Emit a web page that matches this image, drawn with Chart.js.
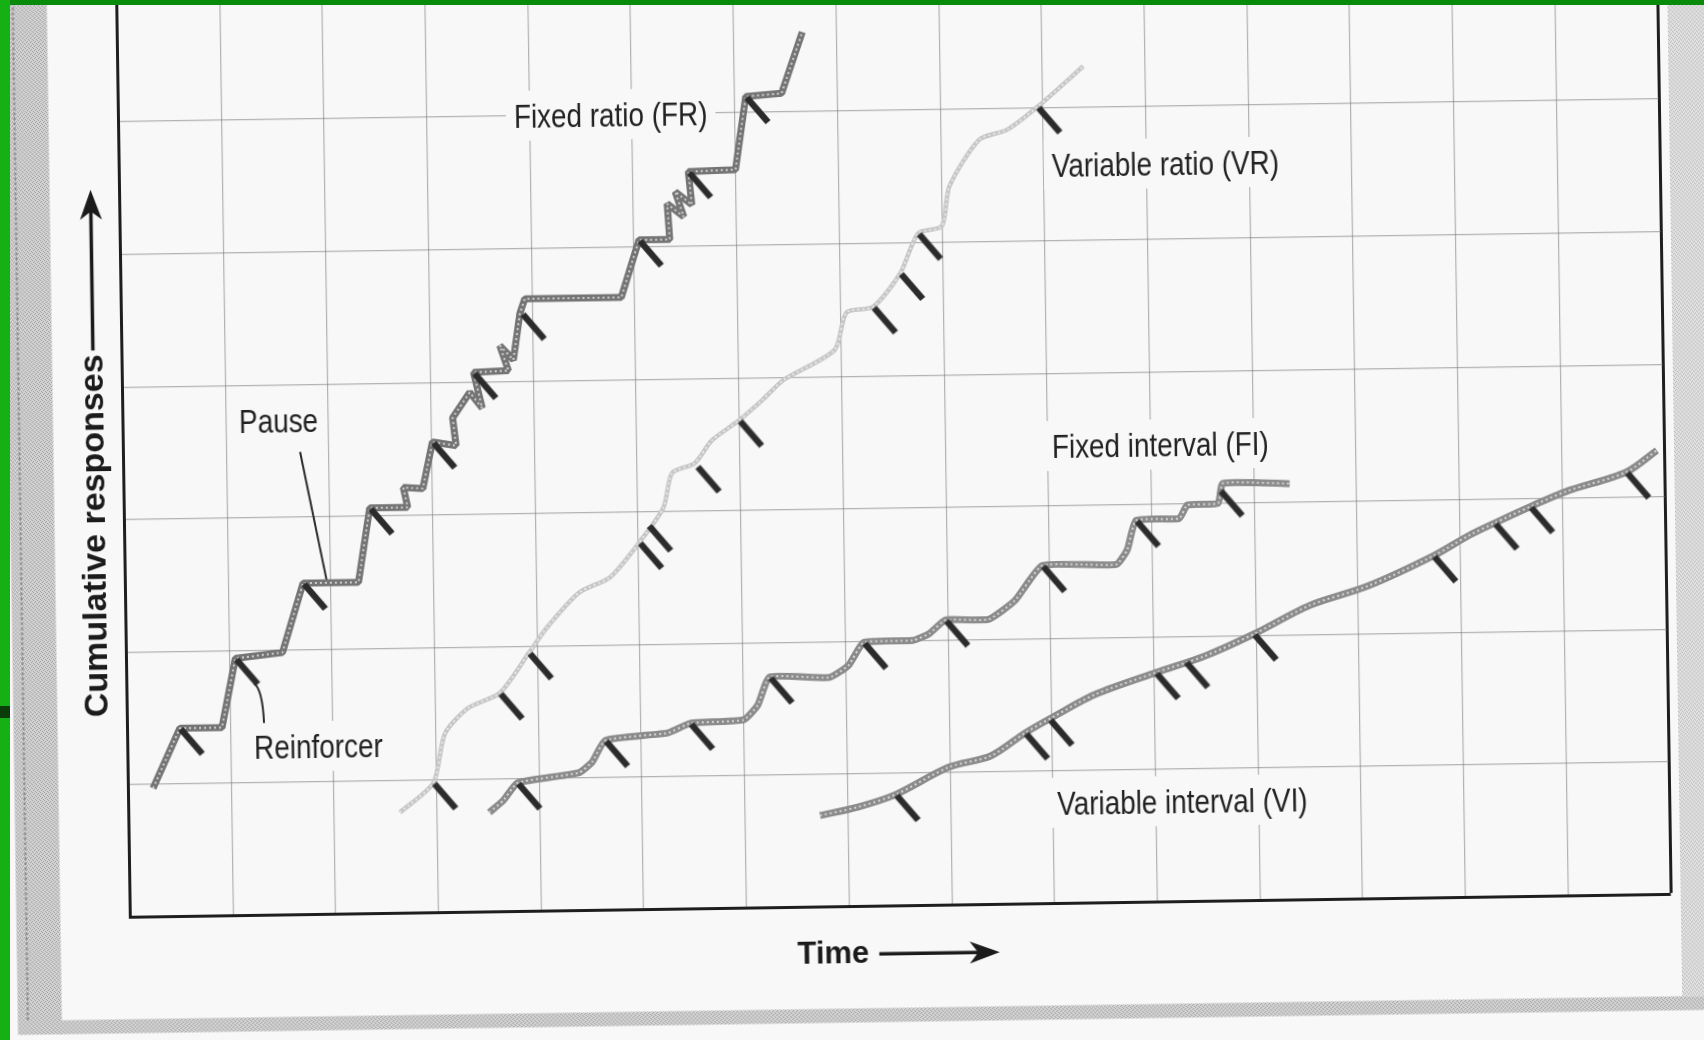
<!DOCTYPE html>
<html>
<head>
<meta charset="utf-8">
<title>Cumulative records</title>
<script src="https://cdn.jsdelivr.net/npm/chart.js@4.4.1/dist/chart.umd.min.js"></script>
<style>
    html, body { margin: 0; padding: 0; }
    body { width: 1704px; height: 1040px; overflow: hidden; background: #f8f8f8; position: relative; }
    /* a página escaneada está levemente girada */
    #pagina { position: absolute; left: -28px; top: -60px; width: 1760px; height: 1160px;
              transform: rotate(-0.85deg); transform-origin: 880px 580px; }
    #verde-topo { position: absolute; left: 0; top: 0; width: 1704px; height: 5px; background: #0a8a0a; }
    #verde-esq { position: absolute; left: 0; top: 0; width: 10px; height: 1040px; background: #14b014; }
    #verde-marca { position: absolute; left: 0; top: 706px; width: 10px; height: 12px; background: #0b3d0b; }
</style>
</head>
<body>
<div id="pagina"><canvas id="registro" width="1760" height="1160"></canvas></div>
<div id="verde-topo"></div>
<div id="verde-esq"></div>
<div id="verde-marca"></div>
<script>
// grade: 15 colunas de tempo, 7 linhas de respostas
const timeCells = 15;
const responseCells = 7;

// razão fixa (FR)
const frX = [0.24, 0.51, 0.92, 1.06, 1.52, 1.73, 2.27, 2.39, 2.76, 2.72, 2.91, 3.01, 3.24, 3.21, 3.38, 3.50, 3.42, 3.76, 3.68, 3.81, 3.88, 3.93, 4.87, 5.05, 5.35, 5.33, 5.49, 5.41, 5.57, 5.54, 6.00, 6.11, 6.46, 6.67];
const frY = [0.97, 1.42, 1.42, 1.94, 1.98, 2.50, 2.50, 3.06, 3.06, 3.21, 3.20, 3.55, 3.52, 3.73, 3.92, 3.80, 4.07, 4.08, 4.27, 4.16, 4.51, 4.62, 4.62, 5.05, 5.05, 5.32, 5.22, 5.41, 5.31, 5.56, 5.57, 6.12, 6.14, 6.60];
const frRfX = [0.51, 1.06, 1.73, 2.39, 3.01, 3.42, 3.90, 5.05, 5.54, 6.11];
const frRfY = [1.42, 1.94, 2.50, 3.06, 3.55, 4.07, 4.51, 5.05, 5.56, 6.12];

// razão variável (VR)
const vrX = [2.64, 2.97, 3.09, 3.32, 3.63, 3.92, 4.10, 4.42, 4.72, 5.01, 5.25, 5.34, 5.56, 5.73, 6.00, 6.23, 6.44, 6.94, 7.06, 7.32, 7.59, 7.77, 8.00, 8.08, 8.38, 8.65, 8.95, 9.40];
const vrY = [0.76, 0.98, 1.35, 1.54, 1.65, 1.95, 2.14, 2.40, 2.51, 2.77, 3.03, 3.29, 3.36, 3.53, 3.68, 3.83, 3.98, 4.20, 4.48, 4.52, 4.77, 5.07, 5.12, 5.42, 5.77, 5.84, 6.01, 6.31];
const vrRfX = [2.97, 3.63, 3.92, 5.01, 5.10, 5.58, 6.00, 7.32, 7.59, 7.77, 8.95];
const vrRfY = [0.98, 1.65, 1.95, 2.77, 2.90, 3.34, 3.68, 4.52, 4.77, 5.07, 6.01];

// intervalo fixo (FI)
const fiX = [3.51, 3.65, 3.79, 4.39, 4.52, 4.65, 5.26, 5.48, 6.00, 6.14, 6.26, 6.84, 7.03, 7.18, 7.66, 7.82, 7.98, 8.40, 8.66, 8.93, 9.65, 9.76, 9.85, 10.27, 10.35, 10.65, 10.70, 11.35];
const fiY = [0.75, 0.84, 0.97, 1.04, 1.12, 1.28, 1.33, 1.40, 1.42, 1.53, 1.74, 1.73, 1.82, 1.99, 2.00, 2.05, 2.15, 2.15, 2.29, 2.55, 2.55, 2.66, 2.88, 2.89, 2.99, 3.00, 3.15, 3.14];
const fiRfX = [3.79, 4.65, 5.48, 6.26, 7.18, 7.98, 8.93, 9.85, 10.67];
const fiRfY = [0.97, 1.28, 1.40, 1.74, 1.99, 2.15, 2.55, 2.88, 3.10];

// intervalo variável (VI)
const viX = [6.73, 7.10, 7.47, 7.99, 8.40, 8.74, 9.02, 9.42, 10.02, 10.50, 10.98, 11.53, 12.10, 12.74, 13.09, 13.34, 13.69, 14.04, 14.63, 14.93];
const viY = [0.69, 0.75, 0.84, 1.04, 1.12, 1.29, 1.41, 1.57, 1.73, 1.85, 2.01, 2.22, 2.36, 2.58, 2.73, 2.82, 2.94, 3.05, 3.19, 3.35];
const viRfX = [7.47, 8.74, 8.98, 10.02, 10.31, 10.98, 12.74, 13.34, 13.69, 14.63];
const viRfY = [0.84, 1.29, 1.39, 1.73, 1.81, 2.01, 2.58, 2.82, 2.94, 3.19];

// rótulos (canto esquerdo, meio do texto)
const labelTexts = ["Fixed ratio (FR)", "Variable ratio (VR)", "Fixed interval (FI)", "Variable interval (VI)", "Pause", "Reinforcer"];
const labelX = [3.85, 9.08, 9.04, 9.04, 1.13, 1.23];
const labelY = [6.00, 5.57, 3.45, 0.76, 3.73, 1.27];

// linhas que ligam "Pause" e "Reinforcer" à curva
const pausePointer = [[1.72, 3.49], [1.96, 2.52]];
const reinforcerPointer = [[1.24, 1.75], [1.32, 1.70], [1.33, 1.45]];

const yTitle = "Cumulative responses";
const xTitle = "Time";

function pontos(xs, ys) {
    return xs.map((x, i) => ({ x, y: ys[i] }));
}

// traço curto do reforçador, começa no centro da imagem
function criarMarca() {
    const c = document.createElement("canvas");
    c.width = 72;
    c.height = 72;
    const g = c.getContext("2d");
    g.strokeStyle = "#2b2b2b";
    g.lineWidth = 6.5;
    g.beginPath();
    g.moveTo(37, 37);
    g.lineTo(58, 62);
    g.stroke();
    return c;
}

function criarTextura(base, ponto) {
    const c = document.createElement("canvas");
    c.width = 4;
    c.height = 4;
    const g = c.getContext("2d");
    g.fillStyle = base;
    g.fillRect(0, 0, 4, 4);
    g.fillStyle = ponto;
    g.fillRect(0, 0, 1, 1);
    g.fillRect(2, 1, 1, 1);
    g.fillRect(1, 2, 1, 1);
    g.fillRect(3, 3, 1, 1);
    return c;
}

function seta(ctx, x1, y1, x2, y2) {
    const ang = Math.atan2(y2 - y1, x2 - x1);
    const L = 30, W = 11;
    ctx.lineWidth = 3.5;
    ctx.beginPath();
    ctx.moveTo(x1, y1);
    ctx.lineTo(x2 - Math.cos(ang) * L * 0.7, y2 - Math.sin(ang) * L * 0.7);
    ctx.stroke();
    ctx.save();
    ctx.translate(x2, y2);
    ctx.rotate(ang);
    ctx.beginPath();
    ctx.moveTo(0, 0);
    ctx.lineTo(-L, -W);
    ctx.lineTo(-L * 0.72, 0);
    ctx.lineTo(-L, W);
    ctx.closePath();
    ctx.fill();
    ctx.restore();
}

const corPapel = "#f8f8f8";
const corGrade = "rgba(120,120,120,0.55)";
const corMoldura = "#1e1e1e";

const decoracao = {
    id: "decoracao",
    beforeDraw(chart) {
        const ctx = chart.ctx;
        const { left, right, bottom } = chart.chartArea;
        ctx.save();
        ctx.fillStyle = corPapel;
        ctx.fillRect(0, 0, chart.width, chart.height);

        // bordas cinzentas do escaneamento
        ctx.fillStyle = ctx.createPattern(criarTextura("#d4d4d4", "#9c9c9c"), "repeat");
        ctx.fillRect(left - 114, 0, 44, bottom + 116);
        ctx.fillRect(left - 74, bottom + 102, chart.width, 14);
        ctx.fillStyle = ctx.createPattern(criarTextura("#e2e2e2", "#b4b4b4"), "repeat");
        ctx.fillRect(right + 10, 0, 60, bottom + 102);

        ctx.strokeStyle = "#8c8c8c";
        ctx.lineWidth = 2;
        ctx.setLineDash([3, 2]);
        ctx.beginPath();
        ctx.moveTo(left - 104, 0);
        ctx.lineTo(left - 104, bottom + 102);
        ctx.stroke();
        ctx.restore();
    },
    beforeDatasetsDraw(chart) {
        const ctx = chart.ctx;
        const sx = chart.scales.x, sy = chart.scales.y;
        ctx.save();
        ctx.font = '34px "Liberation Sans", Arial, sans-serif';
        labelTexts.forEach((txt, i) => {
            const px = sx.getPixelForValue(labelX[i]);
            const py = sy.getPixelForValue(labelY[i]);
            const w = ctx.measureText(txt).width * 0.82;
            ctx.fillStyle = corPapel;
            ctx.fillRect(px - 8, py - 25, w + 16, 50);
            ctx.save();
            ctx.translate(px, py);
            ctx.scale(0.82, 1);
            ctx.fillStyle = "#222";
            ctx.textBaseline = "alphabetic";
            ctx.fillText(txt, 0, 12);
            ctx.restore();
        });

        ctx.strokeStyle = "#2a2a2a";
        ctx.lineWidth = 2;
        ctx.beginPath();
        ctx.moveTo(sx.getPixelForValue(pausePointer[0][0]), sy.getPixelForValue(pausePointer[0][1]));
        ctx.lineTo(sx.getPixelForValue(pausePointer[1][0]), sy.getPixelForValue(pausePointer[1][1]));
        ctx.stroke();

        const r = reinforcerPointer.map(p => [sx.getPixelForValue(p[0]), sy.getPixelForValue(p[1])]);
        ctx.beginPath();
        ctx.moveTo(r[0][0], r[0][1]);
        ctx.quadraticCurveTo(r[1][0], r[1][1], r[2][0], r[2][1]);
        ctx.stroke();
        ctx.restore();
    },
    afterDraw(chart) {
        const ctx = chart.ctx;
        const sx = chart.scales.x, sy = chart.scales.y;
        const { left } = chart.chartArea;
        ctx.save();
        ctx.fillStyle = "#1b1b1b";
        ctx.strokeStyle = "#1b1b1b";
        ctx.font = 'bold 34px "Liberation Sans", Arial, sans-serif';
        ctx.textAlign = "center";
        ctx.textBaseline = "middle";

        // título vertical com seta
        const wy = ctx.measureText(yTitle).width;
        const tx = left - 29, ty = sy.getPixelForValue(2.88);
        ctx.save();
        ctx.translate(tx, ty);
        ctx.rotate(-Math.PI / 2);
        ctx.fillText(yTitle, 0, 0);
        ctx.restore();
        seta(ctx, tx, ty - wy / 2 - 4, tx, sy.getPixelForValue(5.49));

        // título horizontal com seta
        ctx.font = 'bold 31px "Liberation Sans", Arial, sans-serif';
        const wx = ctx.measureText(xTitle).width;
        const hx = sx.getPixelForValue(6.84), hy = sy.getPixelForValue(-0.36);
        ctx.fillText(xTitle, hx, hy);
        seta(ctx, hx + wx / 2 + 10, hy, sx.getPixelForValue(8.46), hy);
        ctx.restore();
    }
};

const marca = criarMarca();
const textura = { borderColor: "rgba(245,245,245,0.7)", borderWidth: 2, borderDash: [2, 3] };

function curva(xs, ys, cor, largura, tensao) {
    return [
        { data: pontos(xs, ys), showLine: true, borderColor: cor, borderWidth: largura, borderJoinStyle: "bevel", tension: tensao, pointRadius: 0, order: 2 },
        { data: pontos(xs, ys), showLine: true, ...textura, borderJoinStyle: "bevel", tension: tensao, pointRadius: 0, order: 1 }
    ];
}

const reforcos = [
    ...pontos(frRfX, frRfY),
    ...pontos(vrRfX, vrRfY),
    ...pontos(fiRfX, fiRfY),
    ...pontos(viRfX, viRfY)
];

new Chart(document.getElementById("registro"), {
    type: "scatter",
    data: {
        datasets: [
            { data: reforcos, showLine: false, pointStyle: marca, pointRadius: 4, order: 0 },
            ...curva(frX, frY, "#747474", 7, 0),
            ...curva(vrX, vrY, "#c6c6c6", 4.5, 0.25),
            ...curva(fiX, fiY, "#8b8b8b", 7, 0.15),
            ...curva(viX, viY, "#8b8b8b", 7, 0.3)
        ]
    },
    options: {
        responsive: false,
        devicePixelRatio: 1,
        animation: false,
        events: [],
        layout: { padding: { left: 152.5, right: 67, top: 38.3, bottom: 193.5 } },
        plugins: { legend: { display: false }, tooltip: { enabled: false } },
        scales: {
            x: {
                type: "linear", min: 0, max: timeCells,
                ticks: { display: false, stepSize: 1 },
                grid: {
                    drawTicks: false,
                    color: c => c.tick.value === timeCells ? corMoldura : corGrade,
                    lineWidth: c => c.tick.value === timeCells ? 3 : 1.2
                },
                border: { display: true, color: corMoldura, width: 3 }
            },
            y: {
                type: "linear", min: 0, max: responseCells,
                ticks: { display: false, stepSize: 1 },
                grid: { drawTicks: false, color: corGrade, lineWidth: 1.2 },
                border: { display: true, color: corMoldura, width: 3 }
            }
        }
    },
    plugins: [decoracao]
});
</script>
</body>
</html>
